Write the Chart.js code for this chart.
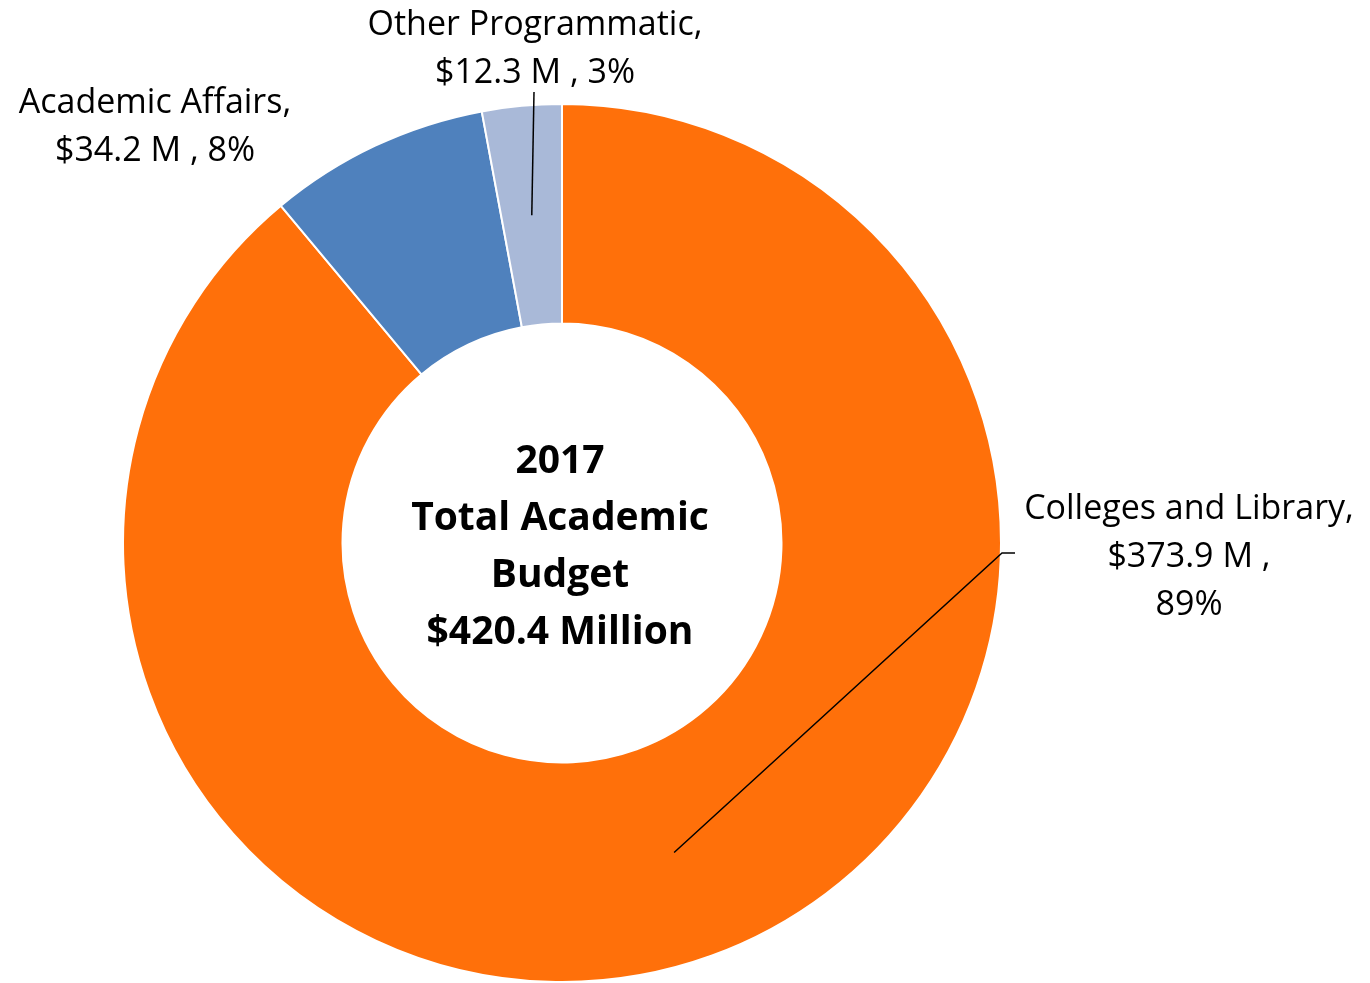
<!DOCTYPE html>
<html>
<head>
<meta charset="utf-8">
<script src="https://cdn.jsdelivr.net/npm/chart.js@4.4.1/dist/chart.umd.min.js"></script>
<style>
  html, body { margin: 0; padding: 0; background: #fff; }
  #wrap { width: 1370px; height: 983px; position: relative; }
</style>
</head>
<body>
<div id="wrap"><canvas id="chart"></canvas></div>
<script>
const categories = ['Colleges and Library', 'Academic Affairs', 'Other Programmatic'];
const budget = [373.9, 34.2, 12.3];
const colors = ['#FF700A', '#4F81BD', '#A9B9D8'];
const centerLines = ['2017', 'Total Academic', 'Budget', '$420.4 Million'];

const total = budget.reduce((a, b) => a + b, 0);

// where each label sits and how its leader line runs
const labelSpots = [
    { x: 1189, y: 509, split: true, leader: [[1002, 553], [1015, 553]] },
    { x: 155, y: 103, split: false, leader: null },
    { x: 535, y: 25, split: false, leader: [[534, 92]] },
];

const labelPlugin = {
    id: 'sliceLabels',
    afterDatasetsDraw(chart) {
        const ctx = chart.ctx;
        const meta = chart.getDatasetMeta(0);
        ctx.save();
        ctx.fillStyle = '#000';
        ctx.textAlign = 'center';
        ctx.textBaseline = 'middle';
        ctx.font = '34px "Open Sans"';
        meta.data.forEach((arc, i) => {
            const spot = labelSpots[i];
            const pct = Math.round(budget[i] / total * 100) + '%';
            const money = '$' + budget[i].toFixed(1) + ' M ,';
            const lines = spot.split
                ? [categories[i] + ',', money, pct]
                : [categories[i] + ',', money + ' ' + pct];
            lines.forEach((t, k) => ctx.fillText(t, spot.x, spot.y + k * 48));

            if (spot.leader) {
                const p = arc.tooltipPosition();
                ctx.beginPath();
                ctx.moveTo(p.x, p.y);
                spot.leader.forEach(pt => ctx.lineTo(pt[0], pt[1]));
                ctx.strokeStyle = '#000';
                ctx.lineWidth = 1.5;
                ctx.stroke();
            }
        });

        // centre caption
        const c = meta.data[0];
        ctx.font = 'bold 39px "Open Sans"';
        centerLines.forEach((t, k) => ctx.fillText(t, c.x - 2, c.y - 81 + k * 57));
        ctx.restore();
    }
};

new Chart(document.getElementById('chart'), {
    type: 'doughnut',
    data: {
        labels: categories,
        datasets: [{
            data: budget,
            backgroundColor: colors,
            borderColor: '#fff',
            borderWidth: 2,
        }]
    },
    options: {
        responsive: true,
        maintainAspectRatio: false,
        animation: false,
        cutout: '50%',
        layout: { padding: { left: 122, right: 368, top: 103, bottom: 0 } },
        plugins: {
            legend: { display: false },
            tooltip: { enabled: false },
        }
    },
    plugins: [labelPlugin]
});
</script>
</body>
</html>
